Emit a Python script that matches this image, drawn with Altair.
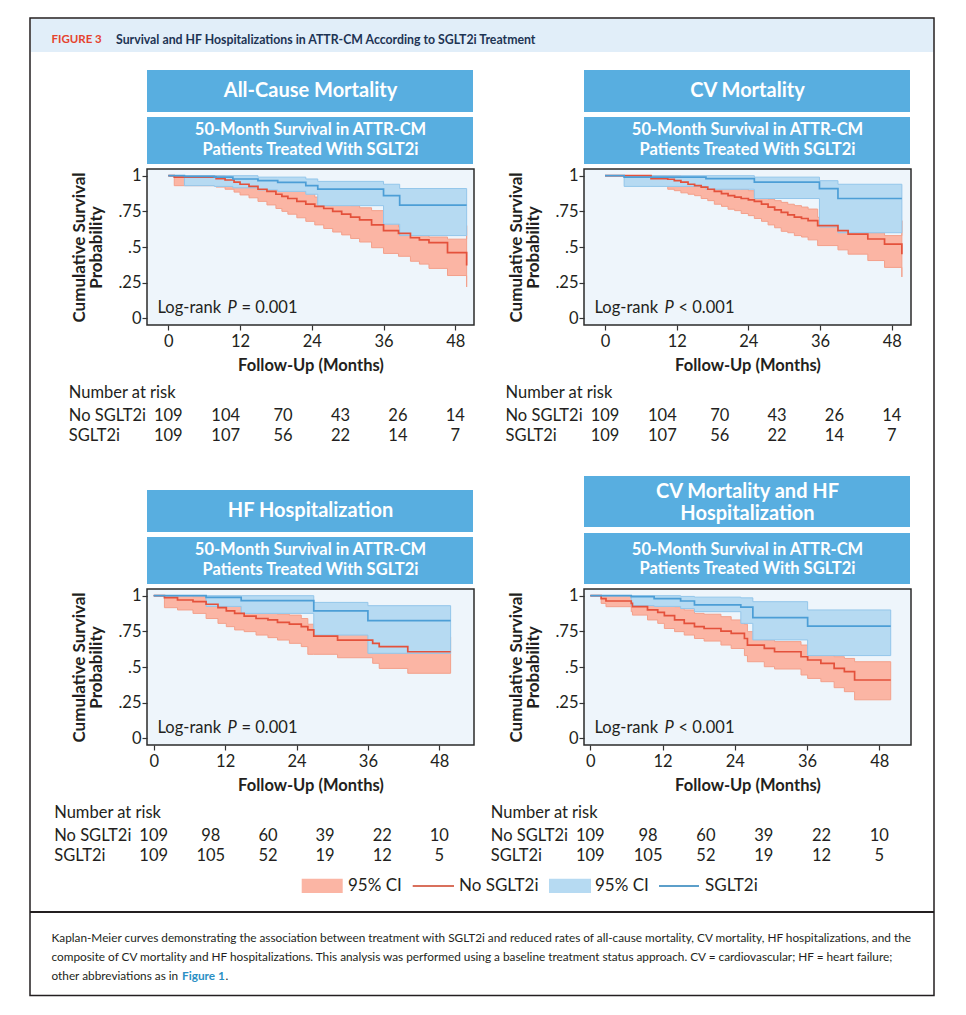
import altair as alt
import pandas as pd

FONT = "Lato"
TXT = "#231f20"
RED = "#e4513b"
BLUE = "#4c9ed6"
SALMON = "#fbb5a4"
SALMON_EDGE = "#f3a08b"
LBLUE = "#b6daf2"
LBLUE_EDGE = "#93c6ea"
BOX = "#58aee0"

# ---------------- data ----------------
# Panel A: All-Cause Mortality
A_no_t = [0, 1, 8, 9.5, 11, 12, 13.5, 15, 16.5, 18, 19, 20, 21.5, 23, 24.5, 26, 27.5, 29, 30.5, 32, 34, 36, 38.5, 40.5, 42, 43.6, 46.7, 49.9]
A_no_s = [1, 0.99, 0.98, 0.97, 0.955, 0.94, 0.925, 0.905, 0.89, 0.87, 0.855, 0.84, 0.82, 0.80, 0.785, 0.77, 0.75, 0.73, 0.71, 0.69, 0.655, 0.615, 0.595, 0.565, 0.55, 0.53, 0.46, 0.37]
A_no_lo = [1, 0.93, 0.92, 0.905, 0.885, 0.865, 0.845, 0.82, 0.795, 0.77, 0.75, 0.73, 0.705, 0.68, 0.655, 0.63, 0.605, 0.585, 0.56, 0.535, 0.495, 0.455, 0.435, 0.40, 0.38, 0.35, 0.30, 0.22]
A_no_hi = [1, 1, 1, 0.995, 0.99, 0.985, 0.975, 0.965, 0.95, 0.94, 0.93, 0.92, 0.905, 0.885, 0.85, 0.835, 0.82, 0.80, 0.79, 0.775, 0.755, 0.67, 0.64, 0.60, 0.59, 0.57, 0.555, 0.65]
A_yes_t = [0, 2.7, 7.7, 10.8, 15, 18.3, 23, 25, 36, 38.7, 49.9]
A_yes_s = [1, 0.995, 0.99, 0.977, 0.965, 0.953, 0.93, 0.906, 0.86, 0.794, 0.794]
A_yes_lo = [1, 0.93, 0.925, 0.915, 0.90, 0.89, 0.87, 0.79, 0.66, 0.58, 0.58]
A_yes_hi = [1, 1, 1, 1, 0.99, 0.99, 0.977, 0.96, 0.94, 0.91, 0.91]

# Panel B: CV Mortality
B_no_t = [0, 7.7, 10.5, 11.6, 12.7, 13.9, 15, 16.1, 17.2, 18.3, 19.5, 20.6, 21.7, 22.8, 24, 25, 26.2, 27.3, 28.4, 29.5, 30.6, 31.7, 32.9, 34, 35.6, 39, 40.7, 44, 46.8, 49.7]
B_no_s = [1, 0.98, 0.975, 0.965, 0.955, 0.94, 0.93, 0.92, 0.905, 0.89, 0.875, 0.86, 0.85, 0.84, 0.83, 0.82, 0.80, 0.78, 0.76, 0.743, 0.725, 0.71, 0.70, 0.685, 0.65, 0.615, 0.59, 0.556, 0.52, 0.45]
B_no_lo = [1, 0.93, 0.905, 0.895, 0.88, 0.87, 0.86, 0.84, 0.825, 0.80, 0.785, 0.765, 0.755, 0.735, 0.72, 0.70, 0.68, 0.655, 0.635, 0.61, 0.60, 0.58, 0.57, 0.55, 0.51, 0.48, 0.45, 0.405, 0.357, 0.29]
B_no_hi = [1, 1, 1, 1, 0.99, 0.985, 0.98, 0.977, 0.965, 0.955, 0.94, 0.93, 0.92, 0.906, 0.895, 0.86, 0.85, 0.836, 0.825, 0.813, 0.80, 0.79, 0.78, 0.766, 0.708, 0.66, 0.64, 0.60, 0.58, 0.685]
B_yes_t = [0, 3.2, 16.9, 25, 35.9, 39, 49.7]
B_yes_s = [1, 0.99, 0.98, 0.955, 0.91, 0.84, 0.84]
B_yes_lo = [1, 0.925, 0.905, 0.84, 0.64, 0.60, 0.60]
B_yes_hi = [1, 1, 1, 0.99, 0.965, 0.94, 0.94]

# Panel C: HF Hospitalization
C_no_t = [0, 1.8, 4, 6.6, 8.8, 10.8, 12.2, 13.6, 15.2, 17.2, 19.2, 20.8, 22.8, 24.8, 25.9, 26.9, 30.9, 36.8, 37.9, 42.7, 49.9]
C_no_s = [1, 0.986, 0.97, 0.958, 0.94, 0.916, 0.893, 0.876, 0.857, 0.84, 0.83, 0.813, 0.80, 0.783, 0.76, 0.717, 0.689, 0.666, 0.643, 0.607, 0.607]
C_no_lo = [1, 0.916, 0.90, 0.876, 0.84, 0.806, 0.783, 0.76, 0.748, 0.724, 0.706, 0.689, 0.666, 0.643, 0.589, 0.589, 0.565, 0.526, 0.49, 0.456, 0.456]
C_no_hi = [1, 1, 1, 0.993, 0.97, 0.955, 0.935, 0.93, 0.915, 0.90, 0.876, 0.87, 0.864, 0.84, 0.80, 0.78, 0.76, 0.75, 0.73, 0.71, 0.71]
C_yes_t = [0, 8.8, 14.7, 26.9, 36, 49.9]
C_yes_s = [1, 0.988, 0.965, 0.893, 0.825, 0.825]
C_yes_lo = [1, 0.925, 0.876, 0.724, 0.596, 0.596]
C_yes_hi = [1, 1, 1, 0.953, 0.93, 0.93]

# Panel D: CV Mortality and HF Hospitalization
D_no_t = [0, 1.8, 2.6, 6.8, 7.0, 9.5, 11.2, 12.3, 14, 15.6, 17.3, 18.9, 21.7, 23.4, 25.6, 26.1, 28.9, 30.6, 35, 36.1, 38.3, 40.5, 42.2, 43.9, 49.9]
D_no_s = [1, 0.98, 0.963, 0.946, 0.923, 0.90, 0.883, 0.86, 0.83, 0.806, 0.783, 0.77, 0.752, 0.736, 0.70, 0.654, 0.63, 0.607, 0.572, 0.549, 0.526, 0.49, 0.467, 0.409, 0.409]
D_no_lo = [1, 0.946, 0.923, 0.888, 0.864, 0.83, 0.806, 0.77, 0.748, 0.724, 0.70, 0.682, 0.654, 0.63, 0.58, 0.537, 0.502, 0.486, 0.444, 0.42, 0.397, 0.355, 0.327, 0.27, 0.27]
D_no_hi = [1, 1, 1, 0.988, 0.985, 0.972, 0.965, 0.955, 0.923, 0.90, 0.876, 0.87, 0.853, 0.83, 0.80, 0.748, 0.69, 0.678, 0.654, 0.63, 0.607, 0.572, 0.56, 0.537, 0.537]
D_yes_t = [0, 6.8, 10.6, 15, 17.3, 25, 27, 36.1, 49.9]
D_yes_s = [1, 0.993, 0.98, 0.963, 0.935, 0.92, 0.846, 0.787, 0.787]
D_yes_lo = [1, 0.93, 0.925, 0.91, 0.888, 0.806, 0.69, 0.58, 0.58]
D_yes_hi = [1, 1, 1, 0.995, 0.99, 0.985, 0.958, 0.90, 0.90]

# Number at risk
risk_times = [0, 10, 20, 30, 40, 50]
A_risk_no = [109, 104, 70, 43, 26, 14]
A_risk_yes = [109, 107, 56, 22, 14, 7]
B_risk_no = [109, 104, 70, 43, 26, 14]
B_risk_yes = [109, 107, 56, 22, 14, 7]
C_risk_no = [109, 98, 60, 39, 22, 10]
C_risk_yes = [109, 105, 52, 19, 12, 5]
D_risk_no = [109, 98, 60, 39, 22, 10]
D_risk_yes = [109, 105, 52, 19, 12, 5]

x_ticks = [0, 12, 24, 36, 48]
y_ticks = [0, 0.25, 0.5, 0.75, 1]

caption_lines = [
    "Kaplan-Meier curves demonstrating the association between treatment with SGLT2i and reduced rates of all-cause mortality, CV mortality, HF hospitalizations, and the",
    "composite of CV mortality and HF hospitalizations. This analysis was performed using a baseline treatment status approach. CV = cardiovascular; HF = heart failure;",
    "other abbreviations as in",
]

# ---------------- helpers ----------------
W, H = 327, 156
YDOM = [-0.047, 1.047]
ONE = pd.DataFrame({"k": [0]})


def rect(x, x2, y, y2, **kw):
    return alt.Chart(ONE).mark_rect(**kw).encode(
        x=alt.value(x), x2=alt.value(x2), y=alt.value(y), y2=alt.value(y2))


def rule(x, x2, y, y2, **kw):
    return alt.Chart(ONE).mark_rule(**kw).encode(
        x=alt.value(x), x2=alt.value(x2), y=alt.value(y), y2=alt.value(y2))


def text(t, x, y, **kw):
    kw.setdefault("font", FONT)
    kw.setdefault("color", TXT)
    kw.setdefault("baseline", "middle")
    kw.setdefault("align", "left")
    return alt.Chart(ONE).mark_text(text=t, **kw).encode(x=alt.value(x), y=alt.value(y))


def km(t, s, lo, hi):
    return pd.DataFrame({"month": t, "surv": s, "lo": lo, "hi": hi})


def panel(xdom, title_lines, tbox, sbox, ty, tlh, sy, slh, sign, no, yes, rno, ryes, extra=()):
    xs = alt.Scale(domain=xdom, nice=False, zero=False)
    ys = alt.Scale(domain=YDOM, nice=False, zero=False)
    x0 = (0 - xdom[0]) / (xdom[1] - xdom[0]) * W
    xaxis = alt.Axis(values=x_ticks, title="Follow-Up (Months)", domain=False, grid=False,
                     tickColor="#333333", tickSize=5, tickWidth=1.2, labelFont=FONT,
                     labelFontSize=16.5, labelColor=TXT, labelPadding=3, labelFlush=False,
                     titleFont=FONT, titleFontSize=16.5, titleFontWeight="bold",
                     titleColor=TXT, titlePadding=8)
    yaxis = alt.Axis(values=y_ticks, title=["Cumulative Survival", "Probability"], domain=False,
                     grid=False, tickColor="#333333", tickSize=5, tickWidth=1.2,
                     labelFont=FONT, labelFontSize=16.5, labelColor=TXT, labelPadding=1,
                     labelExpr="datum.value == 0 ? '0' : datum.value == 1 ? '1' : replace(format(datum.value, '.2~f'), '0.', '.')",
                     titleFont=FONT, titleFontSize=17, titleFontWeight="bold", titleColor=TXT,
                     titlePadding=12, titleLineHeight=17)
    X = lambda f: alt.X(f, scale=xs, axis=xaxis)
    Y = lambda f: alt.Y(f, scale=ys, axis=yaxis)
    band_no = alt.Chart(no).mark_area(interpolate="step-after", fill=SALMON, stroke=SALMON_EDGE,
                                      strokeWidth=1).encode(x=X("month:Q"), y=Y("lo:Q"), y2="hi:Q")
    band_yes = alt.Chart(yes).mark_area(interpolate="step-after", fill=LBLUE, stroke=LBLUE_EDGE,
                                        strokeWidth=1).encode(x=X("month:Q"), y=Y("lo:Q"), y2="hi:Q")
    line_no = alt.Chart(no).mark_line(interpolate="step-after", color=RED, strokeWidth=1.7).encode(
        x=X("month:Q"), y=Y("surv:Q"))
    line_yes = alt.Chart(yes).mark_line(interpolate="step-after", color=BLUE, strokeWidth=1.7).encode(
        x=X("month:Q"), y=Y("surv:Q"))

    rdf = pd.DataFrame({"time": risk_times, "no": rno, "yes": ryes})
    risk_layers = []
    for field, yy in (("no", H + 90.5), ("yes", H + 111)):
        risk_layers.append(
            alt.Chart(rdf).transform_calculate(pos="datum.time * 48 / 50").mark_text(
                font=FONT, fontSize=16.5, color=TXT, baseline="middle", align="center").encode(
                x=X("pos:Q"), y=alt.value(yy), text=f"{field}:Q"))

    deco = [
        rect(0, W - 1, tbox[0], tbox[1], fill=BOX),
        rect(0, W - 1, sbox[0], sbox[1], fill=BOX),
        text(title_lines, W / 2, ty, align="center", color="white", fontSize=20,
             fontWeight="bold", lineHeight=tlh),
        text(["50-Month Survival in ATTR-CM", "Patients Treated With SGLT2i"], W / 2, sy,
             align="center", color="white", fontSize=16.5, fontWeight="bold", lineHeight=slh),
        text("Log-rank", 10.5, H - 17.5, fontSize=16.5),
        text("P", 80.5, H - 17.5, fontSize=16.5, fontStyle="italic"),
        text(f"{sign} 0.001", 94.5, H - 17.5, fontSize=16.5),
        text("Number at risk", x0 - 99.5, H + 68, fontSize=16.5),
        text("No SGLT2i", x0 - 99.5, H + 90.5, fontSize=16.5),
        text("SGLT2i", x0 - 99.5, H + 111, fontSize=16.5),
    ]
    return alt.layer(band_no, band_yes, line_no, line_yes, *risk_layers, *deco, *extra).properties(
        width=W, height=H)


CAP = 11.8
# Global decorations, positioned relative to the top-left panel
glob = [
    rect(-116, 786.5, -150, -117, fill="#e1eef9"),
    rect(-117, 787, -151, 826.5, fillOpacity=0, stroke=TXT, strokeWidth=1.5),
    text("FIGURE 3", -95.5, -129.5, fontSize=11.5, fontWeight="bold", color="#e5432f"),
    text("Survival and HF Hospitalizations in ATTR-CM According to SGLT2i Treatment", -31, -129.5,
         fontSize=12.3, fontWeight="bold", color="#1d3454"),
    # legend
    rect(154.7, 195.7, 709.7, 724, fill=SALMON),
    text("95% CI", 201, 717, fontSize=17),
    rule(265.7, 307, 717, 717, color="#d9705c", strokeWidth=2),
    text("No SGLT2i", 312, 717, fontSize=17),
    rect(402, 444, 709.7, 724, fill=LBLUE),
    text("95% CI", 448, 717, fontSize=17),
    rule(512, 552, 717, 717, color="#5c9fca", strokeWidth=2),
    text("SGLT2i", 558, 717, fontSize=17),
    # caption
    rule(-117, 787, 743, 743, color=TXT, strokeWidth=2),
    text(caption_lines[0], -95.5, 769, fontSize=CAP),
    text(caption_lines[1], -95.5, 788, fontSize=CAP),
    text(caption_lines[2], -95.5, 807, fontSize=CAP),
    text("Figure 1", 35, 807, fontSize=CAP, fontWeight="bold", color="#2a8fc4"),
    text(".", 78.5, 807, fontSize=CAP),
]

pA = panel([-3.56, 51.13], "All-Cause Mortality", (-99, -57), (-52, -5), -78, 22, -38.7, 20, "=",
           km(A_no_t, A_no_s, A_no_lo, A_no_hi), km(A_yes_t, A_yes_s, A_yes_lo, A_yes_hi),
           A_risk_no, A_risk_yes, extra=glob)
pB = panel([-3.52, 51.23], "CV Mortality", (-99, -57), (-52, -5), -78, 22, -38.7, 20, "<",
           km(B_no_t, B_no_s, B_no_lo, B_no_hi), km(B_yes_t, B_yes_s, B_yes_lo, B_yes_hi),
           B_risk_no, B_risk_yes)
pC = panel([-1.13, 53.83], "HF Hospitalization", (-99, -57), (-52, -5), -78, 22, -38.7, 20, "=",
           km(C_no_t, C_no_s, C_no_lo, C_no_hi), km(C_yes_t, C_yes_s, C_yes_lo, C_yes_hi),
           C_risk_no, C_risk_yes)
pD = panel([-1.05, 53.27], ["CV Mortality and HF", "Hospitalization"], (-113, -62), (-56, -5),
           -97, 22, -39.3, 19, "<",
           km(D_no_t, D_no_s, D_no_lo, D_no_hi), km(D_yes_t, D_yes_s, D_yes_lo, D_yes_hi),
           D_risk_no, D_risk_yes)

chart = alt.concat(pA, pB, pC, pD, columns=2, spacing={"row": 264, "column": 110},
                   bounds="flush").properties(
    padding={"left": 20, "top": 8, "right": 0, "bottom": 0},
    background="white",
).configure_view(fill="#eef5fb", stroke="#2b2b2b", strokeWidth=1.5)

chart.save("out.html", embed_options={"renderer": "svg", "actions": False})
